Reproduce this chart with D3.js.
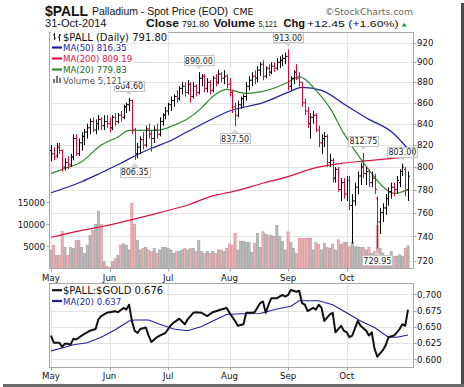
<!DOCTYPE html>
<html>
<head>
<meta charset="utf-8">
<script src="https://cdn.jsdelivr.net/npm/d3@7"></script>
<style>
	body { margin: 0; background: #fff; }
	svg { display: block; }
</style>
</head>
<body>
<svg id="plot" width="464" height="387"></svg>
<script>

// trading days, May 1 .. Oct 31 2014 (index 0..128)
const MONTHS = ['May', 'Jun', 'Jul', 'Aug', 'Sep', 'Oct'];
const MONTH_START = [0, 21, 42, 64, 85, 106];

const OPEN = [
	815,812,810,818,815,800,804,802,809,826,812,822,828,832,836,842,834,840,844,838,842,
	840,836,846,842,848,846,856,858,862,834,812,818,825,820,835,830,826,834,830,842,848,
	852,858,862,866,864,874,876,870,878,866,876,870,884,886,874,880,872,884,880,888,884,886,
	878,870,856,848,858,864,866,876,882,886,884,892,898,886,894,890,896,894,900,902,904,
	906,876,884,890,884,880,860,852,840,846,848,834,822,826,828,804,806,790,798,780,786,
	776,788,766,770,782,792,800,794,796,786,790,772,752,760,764,772,778,782,780,786,796,798,780
];
const HIGH = [
	820,818,822,822,816,808,810,812,830,830,826,832,835,840,845,846,844,848,846,848,848,
	846,848,850,850,852,858,860,864.6,863,836,822,828,832,838,840,834,838,840,846,850,856,
	860,866,868,872,876,880,880,882,880,880,878,890,888,888,884,882,886,888,892,890,892,888,
	884,872,860,862,866,868,880,886,890,892,896,900,902,896,898,900,900,904,906,908,910,
	913,886,892,898,890,880,864,856,850,852,850,838,830,832,830,812,808,800,800,790,790,
	792,792,776,786,796,804,812.75,800,798,796,794,774,764,768,776,782,786,786,792,798,803,800,796
];
const LOW = [
	805,806,808,812,796,797,798,800,806,810,810,815,820,826,830,832,830,834,834,834,836,
	832,834,838,840,842,844,850,852,830,806.35,808,812,816,818,826,814,822,826,828,838,844,
	848,852,856,860,862,868,866,868,860,864,866,868,876,870,870,868,870,876,878,880,878,874,
	866,850,837.5,846,854,856,862,872,876,878,880,886,882,884,886,888,890,892,894,896,898,
	872,872,878,882,876,856,848,836,826,840,832,818,812,818,800,800,786,786,778,770,772,
	770,762,734,766,776,784,790,784,782,782,776,729.95,742,752,758,766,772,774,776,782,792,774,770
];
const CLOSE = [
	812,809,818,815,800,804,802,809,826,812,822,828,832,836,842,834,840,844,838,842,840,
	836,846,842,848,846,856,858,862,834,812,818,825,820,835,830,826,834,830,842,848,852,
	858,862,866,864,874,876,870,878,866,876,870,884,886,874,880,872,884,880,888,884,886,878,
	870,856,848,858,864,866,876,882,886,884,892,898,886,894,890,896,894,900,902,904,906,
	876,884,890,884,880,860,852,840,846,848,834,822,826,828,804,806,790,798,780,786,776,
	788,766,770,782,792,800,794,796,786,790,780,752,760,764,772,778,782,780,788,796,800,779.35,791.8
];
const VOLUME = [
	4200,5300,3000,3000,8400,4800,3000,4800,4500,6300,6300,4800,3400,5300,7500,8600,10000,13000,10000,1500,500,
	200,1500,2200,3000,5300,5600,5300,4200,14800,10000,6300,4200,4500,4800,4200,3800,4500,3400,4200,4800,4800,
	4500,4200,3400,3800,3800,4200,4500,4200,4500,4500,3800,6300,3800,3400,3800,3400,3800,3400,4200,4200,3800,4500,
	5600,5300,8000,4200,6200,6200,5900,5900,3700,5700,8000,4800,8300,7800,7500,7500,7200,9800,7200,6200,4200,
	8300,5900,4600,3400,6800,6800,6800,6900,6900,4200,5900,5400,4200,5700,4800,4600,5400,4200,6500,5400,5900,
	5900,4900,5900,4900,4900,4800,4800,4200,4800,3400,3800,9800,4500,3500,2800,2800,3800,2800,2800,3100,2800,4600,5121
];

// moving averages at some days
const MA50_DAY = [0, 11, 18, 25, 30, 36, 42, 49, 56, 64, 76, 85, 90, 97, 106, 114, 122, 128];
const MA50 = [777.2, 786.9, 794.9, 803.3, 810, 817, 823, 832.5, 842, 852, 860, 870, 875, 872, 857, 844, 832.5, 816.35];
const MA200_DAY = [0, 11, 18, 29, 39, 49, 58, 64, 76, 85, 94, 104, 114, 128];
const MA200 = [739.2, 745, 748, 754, 760, 766.5, 774.5, 777.5, 785.5, 791.4, 798.8, 803.3, 805.7, 809.19];
const MA20_DAY = [0, 5, 11, 18, 24, 28, 32, 38, 44, 49, 54, 58, 63, 70, 76, 85, 89, 95, 100, 105, 110, 114, 119, 123, 128];
const MA20 = [794.3, 798.8, 804.8, 820, 827.5, 833.6, 833.6, 833.6, 838.4, 844.6, 855, 866, 873, 869, 871, 880, 885.5, 872, 855, 830.8, 810.9, 797.3, 782.4, 776.6, 779.83];

// $PALL:$GOLD ratio panel
const RATIO_DAY = [0,1,3,4,5,6,7,8,9,11,12,14,16,17,18,20,23,24,26,27,28,29,30,31,32,34,35,36,37,38,39,41,43,44,46,48,49,51,52,54,56,58,61,63,64,66,67,69,70,72,73,75,76,77,78,79,81,83,84,85,86,88,89,90,91,92,94,95,96,97,98,100,101,102,104,105,106,107,108,110,111,113,114,115,116,117,118,119,120,121,123,125,126,127,128];
const RATIO = [0.6365,0.6255,0.6255,0.619,0.624,0.624,0.6225,0.6315,0.6305,0.6365,0.639,0.644,0.6465,0.6615,0.6665,0.6715,0.674,0.6725,0.679,0.6765,0.684,0.659,0.644,0.6405,0.6465,0.649,0.6365,0.6265,0.6305,0.634,0.6365,0.6405,0.6525,0.6565,0.6625,0.654,0.6615,0.6715,0.6725,0.6715,0.6665,0.6725,0.6765,0.679,0.6715,0.659,0.6515,0.654,0.6715,0.6715,0.6725,0.6865,0.689,0.6715,0.684,0.694,0.694,0.699,0.6965,0.699,0.7065,0.704,0.7055,0.6865,0.684,0.674,0.679,0.6765,0.684,0.679,0.659,0.669,0.6715,0.6415,0.6515,0.644,0.6415,0.634,0.6365,0.659,0.6515,0.644,0.6365,0.6415,0.6165,0.604,0.609,0.614,0.6215,0.634,0.6365,0.6465,0.654,0.6515,0.6765];
const RATIO_MA_DAY = [0,4,8,13,18,23,28,30,35,39,44,49,54,58,63,68,75,81,86,89,96,101,106,111,116,121,124,128];
const RATIO_MA = [0.613,0.6175,0.6225,0.6255,0.634,0.6455,0.659,0.6605,0.6605,0.654,0.6465,0.644,0.6505,0.659,0.669,0.670,0.6705,0.6775,0.6815,0.690,0.690,0.684,0.6715,0.659,0.649,0.634,0.634,0.6375];

const PRICE_TICKS = [720, 740, 760, 780, 800, 820, 840, 860, 880, 900, 920];
const VOL_TICKS = [5000, 10000, 15000];
const RATIO_TICKS = [0.600, 0.625, 0.650, 0.675, 0.700];

// labelled highs / lows: [day, value, above?]
const CALLOUTS = [[28, 864.60, true], [30, 806.35, false], [53, 890.00, true], [66, 837.50, false],
	[85, 913.00, true], [112, 812.75, true], [117, 729.95, false], [126, 803.00, true]];

const UP = '#000000', DOWN = '#d20a3c';
const NUM_FONT = 'DejaVu Sans';
const TXT_FONT = 'Liberation Sans';

const svg = d3.select('#plot');
const main = { left: 49.5, right: 413.5, top: 32.5, bottom: 268.5 };
const low = { left: 49.5, right: 413.5, top: 283.5, bottom: 367.5 };

const x = d3.scaleLinear().domain([0, 128]).range([51, 408]);
const yP = d3.scaleLog().domain([720, 920]).range([260.7, 42.7]);
const yV = d3.scaleLinear().domain([0, 15000]).range([268.5, 202.3]);
const yR = d3.scaleLinear().domain([0.6, 0.7]).range([359.3, 294.3]);

const isDown = i => i > 0 && CLOSE[i] < CLOSE[i - 1];
const px = v => Math.round(v) + 0.5;

function text(g, tx, ty, str, size, opts = {}) {
	const t = g.append('text')
		.attr('x', tx).attr('y', ty)
		.attr('font-family', opts.family || NUM_FONT)
		.attr('font-size', size)
		.attr('font-weight', opts.bold ? 'bold' : 'normal')
		.attr('fill', opts.fill || '#111')
		.attr('text-anchor', opts.anchor || 'start')
		.attr('letter-spacing', opts.ls || 0)
		.text(str);
	if (opts.w) t.attr('textLength', opts.w).attr('lengthAdjust', 'spacingAndGlyphs');
	return t;
}

// ---------- header ----------
const head = svg.append('g');
text(head, 45, 15.5, '$PALL', 14, { family: TXT_FONT, bold: true, w: 43 });
text(head, 92, 15, 'Palladium - Spot Price (EOD)', 10.5, { family: TXT_FONT, w: 136 });
text(head, 233, 15, 'CME', 8.5, { w: 20.5 });
text(head, 325, 14.5, '\u00a9StockCharts.com', 9.2, { fill: '#666', w: 88 });
text(head, 45, 27, '31-Oct-2014', 10.3, { family: TXT_FONT, w: 61.5 });
text(head, 146, 27, 'Close', 10.5, { family: TXT_FONT, bold: true, w: 33 });
text(head, 182, 27, '791.80', 9.5, { family: TXT_FONT, w: 27 });
text(head, 213.5, 27, 'Volume', 10.5, { family: TXT_FONT, bold: true, w: 41.5 });
text(head, 258.5, 27, '5,121', 9.5, { family: TXT_FONT, w: 18.5 });
text(head, 283.5, 27, 'Chg', 10.5, { family: TXT_FONT, bold: true, w: 21.5 });
text(head, 307, 27, '+12.45 (+1.60%)', 9.5, { family: TXT_FONT, w: 91.5 });
head.append('path').attr('d', 'M401.5,26.5L407,26.5L404.2,23Z').attr('fill', '#1a9a3a');

// ---------- panels ----------
function panel(p) {
	svg.append('rect')
		.attr('x', p.left).attr('y', p.top)
		.attr('width', p.right - p.left).attr('height', p.bottom - p.top)
		.attr('fill', '#fff');
}
panel(main);
panel(low);

const grid = svg.append('g').attr('stroke', '#e3e3e3').attr('stroke-width', 1);
grid.selectAll('.hp').data(PRICE_TICKS).join('line')
	.attr('x1', main.left).attr('x2', main.right)
	.attr('y1', d => px(yP(d))).attr('y2', d => px(yP(d)));
grid.selectAll('.hr').data(RATIO_TICKS).join('line')
	.attr('x1', low.left).attr('x2', low.right)
	.attr('y1', d => px(yR(d))).attr('y2', d => px(yR(d)));
MONTH_START.forEach(d => {
	grid.append('line').attr('x1', px(x(d))).attr('x2', px(x(d))).attr('y1', main.top).attr('y2', main.bottom);
	grid.append('line').attr('x1', px(x(d))).attr('x2', px(x(d))).attr('y1', low.top).attr('y2', low.bottom);
});

// volume bars
svg.append('g').selectAll('rect').data(VOLUME).join('rect')
	.attr('x', (d, i) => x(i) - 1.1)
	.attr('width', 2.2)
	.attr('y', d => yV(d))
	.attr('height', d => yV(0) - yV(d))
	.attr('fill', (d, i) => isDown(i) ? '#eab4b6' : '#bcbcbc')
	.attr('stroke', (d, i) => isDown(i) ? '#d57c86' : '#909090')
	.attr('stroke-width', 0.5);

// moving averages
const maLine = (days, vals) => d3.line()
	.x((d, i) => x(days[i]))
	.y(d => yP(d))
	.curve(d3.curveMonotoneX)(vals);
svg.append('path').attr('d', maLine(MA200_DAY, MA200)).attr('fill', 'none').attr('stroke', '#dc143c').attr('stroke-width', 1.2);
svg.append('path').attr('d', maLine(MA50_DAY, MA50)).attr('fill', 'none').attr('stroke', '#1f1f9e').attr('stroke-width', 1.2);
svg.append('path').attr('d', maLine(MA20_DAY, MA20)).attr('fill', 'none').attr('stroke', '#2f8a2f').attr('stroke-width', 1.2);

// OHLC bars
svg.append('g').selectAll('path').data(CLOSE).join('path')
	.attr('d', (d, i) => {
		const xi = px(x(i));
		return `M${xi},${yP(HIGH[i])}V${yP(LOW[i])}M${xi - 1.5},${yP(OPEN[i])}H${xi}M${xi},${yP(d)}H${xi + 1.5}`;
	})
	.attr('fill', 'none')
	.attr('stroke', (d, i) => isDown(i) ? DOWN : UP)
	.attr('stroke-width', 1);

// callouts
const call = svg.append('g');
CALLOUTS.forEach(([day, val, above]) => {
	const cx = x(day);
	const bw = 30, bh = 10;
	let tip, by;
	if (above) {
		tip = yP(val) - 3;
		by = tip - 4 - bh;
		call.append('path').attr('d', `M${cx - 4},${tip - 4.5}L${cx + 4},${tip - 4.5}L${cx},${tip}Z`).attr('fill', '#d4d4d4');
	} else {
		tip = yP(val) + 3;
		by = tip + 4;
		call.append('path').attr('d', `M${cx - 4},${tip + 4.5}L${cx + 4},${tip + 4.5}L${cx},${tip}Z`).attr('fill', '#d4d4d4');
	}
	call.append('rect')
		.attr('x', Math.round(cx - bw / 2) + 0.5).attr('y', Math.round(by) + 0.5)
		.attr('width', bw).attr('height', bh)
		.attr('fill', '#fff').attr('stroke', '#c4c4c4');
	text(call, cx, by + 8.5, val.toFixed(2), 8, { anchor: 'middle', fill: '#222' });
});

// ratio panel lines
const rLine = (days, vals) => d3.line().x((d, i) => x(days[i])).y(d => yR(d))(vals);
svg.append('path').attr('d', rLine(RATIO_MA_DAY, RATIO_MA)).attr('fill', 'none').attr('stroke', '#1f1f9e').attr('stroke-width', 1.1);
svg.append('path').attr('d', rLine(RATIO_DAY, RATIO)).attr('fill', 'none').attr('stroke', '#111').attr('stroke-width', 2).attr('stroke-linejoin', 'round');

// frames
[main, low].forEach(p => {
	svg.append('rect')
		.attr('x', p.left).attr('y', p.top)
		.attr('width', p.right - p.left).attr('height', p.bottom - p.top)
		.attr('fill', 'none').attr('stroke', '#a8a8a8');
});

// axes labels
const ax = svg.append('g');
PRICE_TICKS.forEach(d => {
	ax.append('line').attr('x1', main.right).attr('x2', main.right + 3).attr('y1', px(yP(d))).attr('y2', px(yP(d))).attr('stroke', '#a8a8a8');
	text(ax, 417, yP(d) + 3.2, d, 8.6);
});
RATIO_TICKS.forEach(d => {
	ax.append('line').attr('x1', low.right).attr('x2', low.right + 3).attr('y1', px(yR(d))).attr('y2', px(yR(d))).attr('stroke', '#a8a8a8');
	text(ax, 417, yR(d) + 3.2, d.toFixed(3), 8.6);
});
VOL_TICKS.forEach(d => {
	ax.append('line').attr('x1', main.left - 3).attr('x2', main.left).attr('y1', px(yV(d))).attr('y2', px(yV(d))).attr('stroke', '#a8a8a8');
	text(ax, 45, yV(d) + 3.2, d, 8.6, { anchor: 'end' });
});
MONTH_START.forEach((d, i) => {
	ax.append('line').attr('x1', px(x(d))).attr('x2', px(x(d))).attr('y1', main.bottom).attr('y2', main.bottom + 3).attr('stroke', '#a8a8a8');
	ax.append('line').attr('x1', px(x(d))).attr('x2', px(x(d))).attr('y1', low.bottom).attr('y2', low.bottom + 3).attr('stroke', '#a8a8a8');
	text(ax, x(d), 280.5, MONTHS[i], 8.6, { anchor: 'middle' });
	text(ax, x(d), 378.5, MONTHS[i], 8.6, { anchor: 'middle' });
});

// legends
const leg = svg.append('g');
function legendRow(g, ly, label, size, color, swatch) {
	const t = text(g, 63, ly, label, size, { fill: color });
	const bb = t.node().getBBox();
	g.insert('rect', 'text').attr('x', 51).attr('y', bb.y).attr('width', bb.x + bb.width - 50).attr('height', bb.height).attr('fill', '#fff');
	swatch(g, ly);
}
legendRow(leg, 40.5, '$PALL (Daily) 791.80', 10, '#111', (g, ly) => {
	g.append('path').attr('d', 'M54.5,33V40M53,35H54.5M54.5,38H56M59.5,34V41M58,37H59.5M59.5,35H61').attr('stroke', '#222').attr('fill', 'none');
});
legendRow(leg, 51, 'MA(50) 816.35', 8.6, '#1f1f9e', (g, ly) => g.append('line').attr('x1', 52).attr('x2', 62).attr('y1', ly - 3.5).attr('y2', ly - 3.5).attr('stroke', '#1f1f9e').attr('stroke-width', 2.2));
legendRow(leg, 62, 'MA(200) 809.19', 8.6, '#dc143c', (g, ly) => g.append('line').attr('x1', 52).attr('x2', 62).attr('y1', ly - 3.5).attr('y2', ly - 3.5).attr('stroke', '#dc143c').attr('stroke-width', 2.2));
legendRow(leg, 73, 'MA(20) 779.83', 8.6, '#1d6b1d', (g, ly) => g.append('line').attr('x1', 52).attr('x2', 62).attr('y1', ly - 3.5).attr('y2', ly - 3.5).attr('stroke', '#2f8a2f').attr('stroke-width', 2.2));
legendRow(leg, 83.5, 'Volume 5,121', 8.6, '#555', (g, ly) => {
	g.append('path').attr('d', 'M53,83V79H55V83ZM56,83V76H58V83ZM59,83V78H61V83Z').attr('fill', '#777');
});
legendRow(leg, 294, '$PALL:$GOLD 0.676', 10, '#111', (g, ly) => g.append('line').attr('x1', 52).attr('x2', 62).attr('y1', ly - 3.8).attr('y2', ly - 3.8).attr('stroke', '#111').attr('stroke-width', 2.2));
legendRow(leg, 304.5, 'MA(20) 0.637', 8.6, '#1f1f9e', (g, ly) => g.append('line').attr('x1', 52).attr('x2', 62).attr('y1', ly - 3.5).attr('y2', ly - 3.5).attr('stroke', '#1f1f9e').attr('stroke-width', 2.2));

// drop shadow on the right / bottom edge
svg.append('rect').attr('x', 461).attr('y', 3).attr('width', 3).attr('height', 384).attr('fill', '#4a4a4a');
svg.append('rect').attr('x', 3).attr('y', 384).attr('width', 461).attr('height', 3).attr('fill', '#6a6a6a');

</script>
</body>
</html>
